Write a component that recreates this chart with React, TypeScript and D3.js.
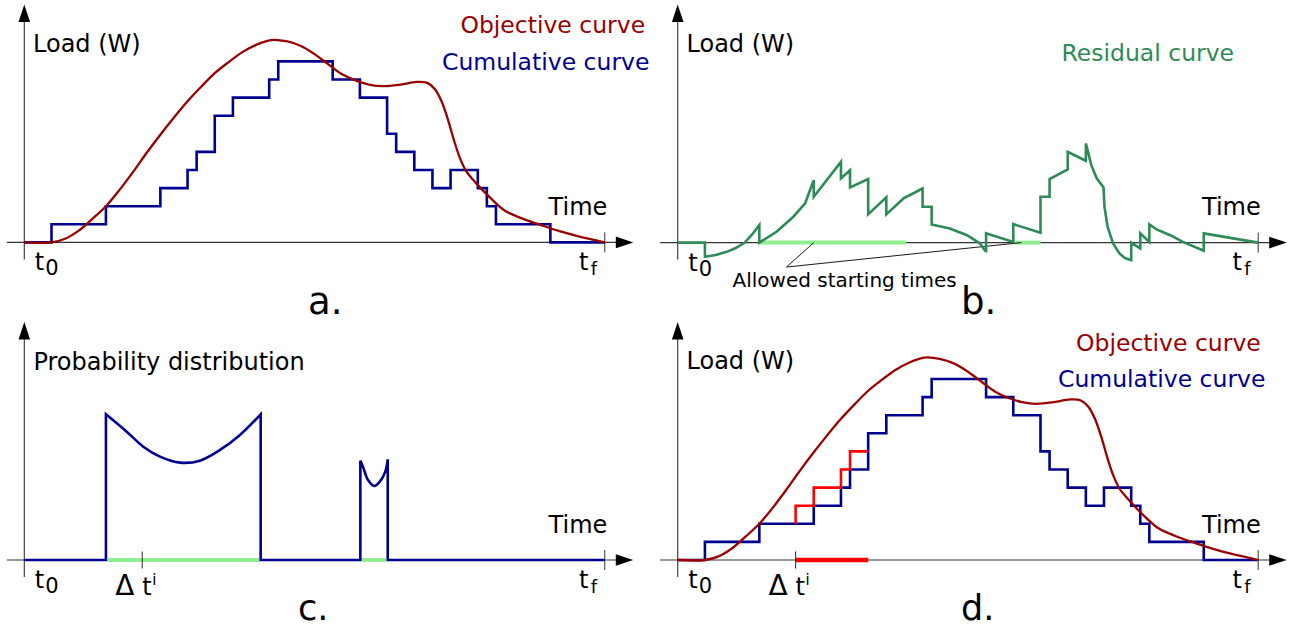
import React from "react";
import * as d3 from "d3";

// ---------- data ----------
// cumulative (step) curve: level held from stepTimes[i] to stepTimes[i+1]
const stepTimes = [0, 3, 9, 15, 18, 19, 21, 23, 27, 28, 34, 37, 40, 41, 43, 45, 47, 50, 51, 52, 58, 64];
const stepLevels = [0, 1, 2, 3, 4, 5, 7, 8, 9, 10, 9, 8, 6, 5, 4, 3, 4, 3, 2, 1, 0, 0];

// objective curve
const objTimes = [0, 3, 4.5, 6, 7.5, 9, 10.5, 12, 13.5, 15, 16.5, 18, 19.5, 21, 22.5, 24, 25.5, 27.2, 29, 30.5, 32, 33.5, 35, 36.5, 38, 39.5, 41.5, 43.3, 44.5, 45.3, 46, 46.7, 47.4, 48, 48.7, 49.5, 50.5, 51.5, 53, 55, 57, 59, 61, 64];
const objLevels = [0, 0, 0.2, 0.65, 1.3, 2.0, 2.9, 3.9, 4.95, 5.95, 6.9, 7.8, 8.6, 9.35, 9.95, 10.5, 10.9, 11.18, 11.1, 10.85, 10.4, 9.85, 9.3, 8.95, 8.72, 8.63, 8.72, 8.87, 8.8, 8.45, 7.8, 6.8, 5.6, 4.7, 3.95, 3.45, 2.9, 2.4, 1.75, 1.3, 0.95, 0.62, 0.35, 0];

// residual curve (panel b)
const resTimes = [0, 3, 3, 4.2, 5.4, 6.4, 7.4, 8.2, 9, 9, 10.9, 12.75, 14.05, 15, 15, 18, 18, 19, 19, 21, 21, 23, 23, 24.9, 27, 27, 28, 28, 30, 31.9, 33.3, 33.9, 34, 34, 37, 37, 40, 40, 41, 41, 43, 43, 45, 45, 45.6, 46.2, 46.95, 47.05, 47.4, 48, 48.7, 49.3, 50, 50, 51, 51, 52, 52, 52.8, 54.3, 55.7, 58, 58, 64];
const resLevels = [0, 0, -0.78, -0.68, -0.51, -0.3, 0, 0.45, 0.97, 0, 0.6, 1.43, 2.17, 3.45, 2.53, 4.46, 3.55, 4.0, 3.05, 3.51, 1.56, 2.5, 1.56, 2.44, 2.99, 1.98, 1.98, 1.0, 0.78, 0.41, -0.04, -0.45, -0.47, 0.51, 0.04, 1.02, 0.54, 2.53, 2.53, 3.51, 4.04, 5.02, 4.52, 5.48, 4.28, 3.55, 3.05, 1.98, 0.87, -0.04, -0.6, -0.85, -0.97, 0, -0.32, 0.51, 0.04, 1.0, 0.73, 0.41, 0.04, -0.45, 0.51, 0];

// allowed starting times (panel b) and support of the distribution (panel c)
const allowedStartsB = [9.07, 36.9];
const allowedEndsB = [25.2, 40.0];
const supportStartsC = [9, 37.05];
const supportEndsC = [26.06, 40.07];

// probability distribution humps (panel c)
const bigHumpT = [9, 11.29, 13.12, 14.96, 17.16, 19.37, 21.58, 23.78, 26.06];
const bigHumpP = [8.05, 7.09, 6.26, 5.71, 5.38, 5.49, 6.08, 6.91, 8.05];
const smallHumpT = [37.05, 37.4, 37.9, 38.6, 39.2, 39.8, 40.07];
const smallHumpP = [5.49, 5.07, 4.42, 4.09, 4.33, 4.88, 5.56];

// shifted appliance (panel d)
const shiftTimes = [13, 13, 15, 18, 19, 21];
const shiftLevels = [2, 3, 4, 5, 6, 6];
const deltaT = 13;
const shiftEnd = 21;

// leader lines of the "Allowed starting times" note (panel b): apex then targets
const leaderApex = [12.0, -1.35];
const leaderTargets = [15, 37.9];

// ---------- layout ----------
const T_MAX = 64;
const PX_T = 9.07;
const PX_L = 18.1;
const FONT = "DejaVu Sans";
const BLUE = "#000090";
const DARKRED = "#990000";
const GREEN = "#2e8b57";
const LIGHTGREEN = "#90ee90";

function makeScales(x0: number, y0: number) {
  const x = d3.scaleLinear().domain([0, T_MAX]).range([x0, x0 + PX_T * T_MAX]);
  const y = d3.scaleLinear().domain([0, 1]).range([y0, y0 - PX_L]);
  return { x, y };
}

type P = [number, number];
const zip = (a: number[], b: number[]): P[] => a.map((v, i) => [v, b[i]]);

function Axes({ x0, y0 }: { x0: number; y0: number }) {
  const { x } = makeScales(x0, y0);
  const tf = x(T_MAX);
  return (
    <g>
      <line x1={x0 - 17.5} y1={y0} x2={x0 + 595} y2={y0} stroke="#333" strokeWidth={1.1} />
      <line x1={x0} y1={y0 + 17} x2={x0} y2={y0 - 222} stroke="#333" strokeWidth={1.1} />
      <path d={`M${x0 + 609},${y0} L${x0 + 591.5},${y0 - 5.8} L${x0 + 591.5},${y0 + 5.8} Z`} fill="#000" />
      <path d={`M${x0},${y0 - 238} L${x0 - 5.8},${y0 - 220.5} L${x0 + 5.8},${y0 - 220.5} Z`} fill="#000" />
      <line x1={tf} y1={y0 - 10} x2={tf} y2={y0 + 10} stroke="#333" strokeWidth={1} />
      <text x={x0 + 10.5} y={y0 + 28} fontSize={24} fontFamily={FONT}>t</text>
      <text x={x0 + 21} y={y0 + 33} fontSize={21} fontFamily={FONT}>0</text>
      <text x={x0 + 554.7} y={y0 + 27.5} fontSize={24} fontFamily={FONT}>t</text>
      <text x={x0 + 566.5} y={y0 + 32.6} fontSize={18} fontFamily={FONT}>f</text>
      <text x={x0 + 583} y={y0 - 27.3} fontSize={24} fontFamily={FONT} textAnchor="end">Time</text>
    </g>
  );
}

function DeltaLabel({ x0, y0 }: { x0: number; y0: number }) {
  const { x } = makeScales(x0, y0);
  const xt = x(deltaT);
  return (
    <g>
      <line x1={xt} y1={y0 - 8.5} x2={xt} y2={y0 + 8.5} stroke="#222" strokeWidth={1} />
      <text x={xt - 27} y={y0 + 35} fontSize={28} fontFamily={FONT}>Δ</text>
      <text x={xt} y={y0 + 35} fontSize={24} fontFamily={FONT}>t</text>
      <text x={xt + 10} y={y0 + 25} fontSize={15} fontFamily={FONT}>i</text>
    </g>
  );
}

function Legend({ xo, xc, yo, yc }: { xo: number; xc: number; yo: number; yc: number }) {
  return (
    <g fontFamily={FONT} fontSize={23.5}>
      <text x={xo} y={yo} fill={DARKRED}>Objective curve</text>
      <text x={xc} y={yc} fill={BLUE}>Cumulative curve</text>
    </g>
  );
}

export default function App() {
  const A = makeScales(24.3, 242.4);
  const B = makeScales(677.7, 242.6);
  const C = makeScales(24.3, 560);
  const D = makeScales(677.7, 560);

  const stepPath = (s: ReturnType<typeof makeScales>) =>
    d3.line<P>().x((d) => s.x(d[0])).y((d) => s.y(d[1])).curve(d3.curveStepAfter)(zip(stepTimes, stepLevels)) || "";
  const objPath = (s: ReturnType<typeof makeScales>) =>
    d3.line<P>().x((d) => s.x(d[0])).y((d) => s.y(d[1])).curve(d3.curveCatmullRom.alpha(0.5))(zip(objTimes, objLevels)) || "";
  const resPath =
    d3.line<P>().x((d) => B.x(d[0])).y((d) => B.y(d[1]))(zip(resTimes, resLevels)) || "";
  const shiftPath =
    d3.line<P>().x((d) => D.x(d[0])).y((d) => D.y(d[1])).curve(d3.curveStepAfter)(zip(shiftTimes, shiftLevels)) || "";

  // distribution path (panel c): linear pieces joined with smooth humps
  const lin = d3.line<P>().x((d) => C.x(d[0])).y((d) => C.y(d[1]));
  const smooth = d3.line<P>().x((d) => C.x(d[0])).y((d) => C.y(d[1])).curve(d3.curveCatmullRom.alpha(0.5));
  const seg1 = lin([[0, 0], [supportStartsC[0], 0]]) || "";
  const hump1 = (smooth(zip(bigHumpT, bigHumpP)) || "").replace(/^M/, "L");
  const seg2 = (lin([[supportEndsC[0], 0], [supportStartsC[1], 0]]) || "").replace(/^M/, "L");
  const hump2 = (smooth(zip(smallHumpT, smallHumpP)) || "").replace(/^M/, "L");
  const seg3 = (lin([[supportEndsC[1], 0], [T_MAX, 0]]) || "").replace(/^M/, "L");
  const distPath = seg1 + hump1 + seg2 + hump2 + seg3;

  return (
    <div style={{ position: "absolute", left: 0, top: 0 }}>
      <svg width={1298} height={630} viewBox="0 0 1298 630" style={{ display: "block", background: "#fff" }}>
        {/* ---------- panel a ---------- */}
        <Axes x0={24.3} y0={242.4} />
        <text x={33} y={52} fontSize={24} fontFamily={FONT}>Load (W)</text>
        <Legend xo={460.4} xc={442} yo={33.3} yc={70} />
        <path d={stepPath(A)} fill="none" stroke={BLUE} strokeWidth={2.6} />
        <path d={objPath(A)} fill="none" stroke={DARKRED} strokeWidth={2.3} />
        <text x={308} y={314} fontSize={37} fontFamily={FONT}>a.</text>

        {/* ---------- panel b ---------- */}
        <Axes x0={677.7} y0={242.6} />
        <text x={686.5} y={52} fontSize={24} fontFamily={FONT}>Load (W)</text>
        <text x={1061.5} y={61} fontSize={23.5} fontFamily={FONT} fill={GREEN}>Residual curve</text>
        {allowedStartsB.map((s, i) => (
          <line key={i} x1={B.x(s)} y1={B.y(0)} x2={B.x(allowedEndsB[i])} y2={B.y(0)} stroke={LIGHTGREEN} strokeWidth={4} />
        ))}
        {leaderTargets.map((t, i) => (
          <line key={i} x1={B.x(leaderApex[0])} y1={B.y(leaderApex[1])} x2={B.x(t)} y2={B.y(0)} stroke="#000" strokeWidth={0.9} />
        ))}
        <path d={resPath} fill="none" stroke={GREEN} strokeWidth={2.6} strokeLinejoin="miter" />
        <text x={732.5} y={286.7} fontSize={20} fontFamily={FONT}>Allowed starting times</text>
        <text x={961} y={314} fontSize={37} fontFamily={FONT}>b.</text>

        {/* ---------- panel c ---------- */}
        <Axes x0={24.3} y0={560} />
        <text x={33.4} y={370} fontSize={24} fontFamily={FONT}>Probability distribution</text>
        <path d={distPath} fill="none" stroke={BLUE} strokeWidth={2.6} />
        {supportStartsC.map((s, i) => (
          <line key={i} x1={C.x(s) + 1.5} y1={C.y(0)} x2={C.x(supportEndsC[i]) - 1.5} y2={C.y(0)} stroke={LIGHTGREEN} strokeWidth={4} />
        ))}
        <DeltaLabel x0={24.3} y0={560} />
        <text x={298} y={620} fontSize={35} fontFamily={FONT}>c.</text>

        {/* ---------- panel d ---------- */}
        <Axes x0={677.7} y0={560} />
        <text x={686.5} y={369.3} fontSize={24} fontFamily={FONT}>Load (W)</text>
        <Legend xo={1076} xc={1058} yo={350.5} yc={387} />
        <path d={stepPath(D)} fill="none" stroke={BLUE} strokeWidth={2.6} />
        <path d={shiftPath} fill="none" stroke="#ff0000" strokeWidth={2.6} />
        <line x1={D.x(deltaT)} y1={D.y(0)} x2={D.x(shiftEnd)} y2={D.y(0)} stroke="#ff0000" strokeWidth={4.6} />
        <path d={objPath(D)} fill="none" stroke={DARKRED} strokeWidth={2.3} />
        <DeltaLabel x0={677.7} y0={560} />
        <text x={961} y={620} fontSize={35} fontFamily={FONT}>d.</text>
      </svg>
    </div>
  );
}
